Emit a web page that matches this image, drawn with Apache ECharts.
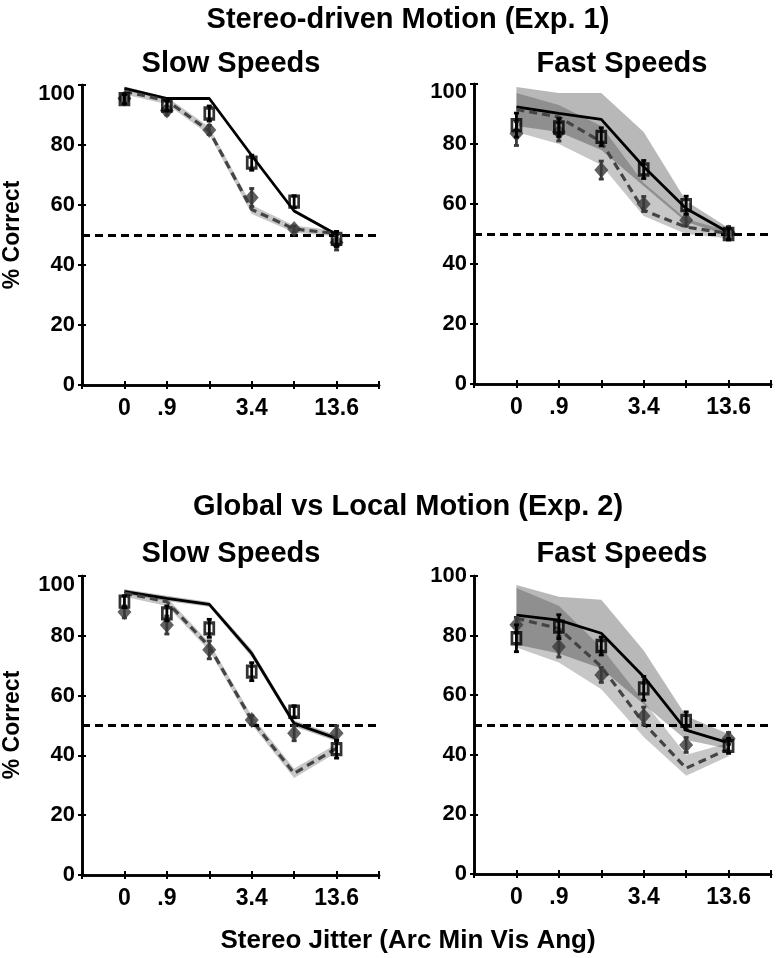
<!DOCTYPE html>
<html>
<head>
<meta charset="utf-8">
<script src="https://cdn.jsdelivr.net/npm/echarts@6/dist/echarts.min.js"></script>
<style>
html,body{margin:0;padding:0;background:#fff;}
#chart{width:777px;height:958px;}
</style>
</head>
<body>
<div id="chart"></div>
<script>
// ---------- DATA ----------
const xPositions = [1, 2, 3, 4, 5, 6];
const xTickLabels = ['', '0', '.9', '', '3.4', '', '13.6', ''];
const chanceLevel = 50;

const panelTitles = ['Slow Speeds', 'Fast Speeds', 'Slow Speeds', 'Fast Speeds'];
const rowTitles = ['Stereo-driven Motion (Exp. 1)', 'Global vs Local Motion (Exp. 2)'];
const yAxisTitle = '% Correct';
const xAxisTitle = 'Stereo Jitter (Arc Min Vis Ang)';

// Panel 1: Exp. 1, slow
const p1Solid = [98.9, 95.5, 95.5, 76.5, 58, 50.2];
const p1Dashed = [97.9, 94.8, 84.7, 58.5, 52, 50.5];
const p1SolidBandUpper = [99.5, 96, 96, 77, 58.6, 50.7];
const p1SolidBandLower = [98.3, 95, 95, 76, 57.4, 49.7];
const p1DashedBandUpper = [99, 96, 86, 60, 53.2, 51.5];
const p1DashedBandLower = [96.8, 93.6, 83.4, 57, 50.8, 49.5];
const p1Squares = [95.3, 93.1, 90.5, 74.1, 61.1, 48.7];
const p1SquaresErr = [1.5, 1.5, 2.5, 2.5, 2, 2.5];
const p1Diamonds = [95.5, 91.5, 85, 62.5, 52, 47.5];
const p1DiamondsErr = [1.5, 1.5, 1.5, 3, 1, 2.5];

// Panel 2: Exp. 1, fast
const p2Solid = [92.4, 90.2, 88.2, 72.4, 58.5, 50.5];
const p2Dashed = [91.5, 89, 80.7, 57.9, 52.3, 50.2];
const p2SolidBandUpper = [99, 97, 97, 84, 61, 52];
const p2SolidBandLower = [86, 84, 78, 66, 54, 49.5];
const p2DashedBandUpper = [97, 93, 86, 67, 55, 51];
const p2DashedBandLower = [84, 80, 73, 56, 50, 48.5];
const p2Squares = [86.3, 85.5, 82.4, 71.5, 59.6, 50];
const p2SquaresErr = [4, 3, 3, 3, 3, 2];
const p2Diamonds = [83.5, 84, 71.3, 60, 54.6, 50.5];
const p2DiamondsErr = [4, 3, 3, 2.5, 2, 2];

// Panel 3: Exp. 2, slow
const p3Solid = [94.8, 92.5, 90.5, 74.1, 50.7, 45.7];
const p3Dashed = [94.3, 91.4, 76.4, 51.8, 34, 42.4];
const p3SolidBandUpper = [95.6, 93.4, 91.3, 75.3, 51.7, 46.7];
const p3SolidBandLower = [94, 91.6, 89.7, 72.9, 49.7, 44.7];
const p3DashedBandUpper = [95.5, 92.8, 77.8, 53.3, 35.6, 43.8];
const p3DashedBandLower = [93.1, 90, 75, 50.3, 32.4, 41];
const p3Squares = [91.4, 87.5, 82.5, 68, 54.6, 42.1];
const p3SquaresErr = [2, 2.5, 3, 3, 2, 3];
const p3Diamonds = [88, 83.6, 75.3, 51.8, 47.4, 47.4];
const p3DiamondsErr = [2, 3, 3, 1.5, 2.5, 2.5];

// Panel 4: Exp. 2, fast
const p4Solid = [86.9, 85.2, 80.8, 66.2, 48.3, 44];
const p4Dashed = [85.8, 82.4, 69.6, 50.6, 35.5, 42];
const p4SolidBandUpper = [97, 93, 92, 75, 53, 47];
const p4SolidBandLower = [77, 74, 69, 57, 45, 42];
const p4DashedBandUpper = [96, 90, 76, 58, 40, 44];
const p4DashedBandLower = [76, 71, 62, 46, 33, 39.5];
const p4Squares = [79.1, 83, 76.5, 62.3, 51.4, 43];
const p4SquaresErr = [4.5, 4, 3, 4, 3, 2.5];
const p4Diamonds = [83.6, 76.3, 66.8, 53, 43.3, 45.5];
const p4DiamondsErr = [2.5, 3.5, 2.5, 3, 2.5, 2];

// ---------- BUILD ----------
const FONT = '"Liberation Sans", Arial, Helvetica, sans-serif';
const panels = [
  {solid:p1Solid, dashed:p1Dashed, sU:p1SolidBandUpper, sL:p1SolidBandLower, dU:p1DashedBandUpper, dL:p1DashedBandLower, sq:p1Squares, sqE:p1SquaresErr, di:p1Diamonds, diE:p1DiamondsErr},
  {solid:p2Solid, dashed:p2Dashed, sU:p2SolidBandUpper, sL:p2SolidBandLower, dU:p2DashedBandUpper, dL:p2DashedBandLower, sq:p2Squares, sqE:p2SquaresErr, di:p2Diamonds, diE:p2DiamondsErr},
  {solid:p3Solid, dashed:p3Dashed, sU:p3SolidBandUpper, sL:p3SolidBandLower, dU:p3DashedBandUpper, dL:p3DashedBandLower, sq:p3Squares, sqE:p3SquaresErr, di:p3Diamonds, diE:p3DiamondsErr},
  {solid:p4Solid, dashed:p4Dashed, sU:p4SolidBandUpper, sL:p4SolidBandLower, dU:p4DashedBandUpper, dL:p4DashedBandLower, sq:p4Squares, sqE:p4SquaresErr, di:p4Diamonds, diE:p4DiamondsErr}
];

const gridRects = [
  {left: 82, top: 85, width: 297, height: 300},
  {left: 474, top: 84, width: 297, height: 300},
  {left: 82, top: 576, width: 297, height: 299},
  {left: 474, top: 576, width: 297, height: 298}
];
// downward shift (px) of the top "100" tick label in each panel, as in the reference
const topLabelShift = [9, 8, 9, 0];

const grids = [], xAxes = [], yAxes = [], series = [];
const axisLineStyle = {color: '#000', width: 2.6};
const tickStyle = {show: true, inside: true, length: 4, lineStyle: {width: 2, color: '#000'}};

function bandSeries(g, upper, lower, fill) {
  return {
    type: 'custom', xAxisIndex: 2*g, yAxisIndex: 2*g,
    data: [[xPositions[0], upper[0]]],
    encode: {x: 0, y: 1},
    silent: true, z: 1,
    renderItem: function (params, api) {
      const pts = [];
      for (let i = 0; i < xPositions.length; i++) pts.push(api.coord([xPositions[i], upper[i]]));
      for (let i = xPositions.length - 1; i >= 0; i--) pts.push(api.coord([xPositions[i], lower[i]]));
      return {type: 'polygon', shape: {points: pts}, style: {fill: fill}};
    }
  };
}

function errSeries(g, vals, errs, color, z) {
  return {
    type: 'custom', xAxisIndex: 2*g, yAxisIndex: 2*g, z: z,
    data: xPositions.map((x, i) => [x, vals[i], errs[i]]),
    encode: {x: 0, y: 1},
    silent: true,
    renderItem: function (params, api) {
      const x = api.value(0), y = api.value(1), e = api.value(2);
      const top = api.coord([x, y + e]);
      const bot = api.coord([x, y - e]);
      const st = {stroke: color, lineWidth: 2.8};
      return {type: 'group', children: [
        {type: 'line', shape: {x1: top[0], y1: top[1], x2: bot[0], y2: bot[1]}, style: st},
        {type: 'line', shape: {x1: top[0]-2.5, y1: top[1], x2: top[0]+2.5, y2: top[1]}, style: st},
        {type: 'line', shape: {x1: bot[0]-2.5, y1: bot[1], x2: bot[0]+2.5, y2: bot[1]}, style: st}
      ]};
    }
  };
}

panels.forEach((p, g) => {
  grids.push(Object.assign({containLabel: false, show: false}, gridRects[g]));
  xAxes.push({
    gridIndex: g, type: 'value', min: 0, max: 7, interval: 1, position: 'bottom',
    axisLine: {show: true, lineStyle: axisLineStyle},
    axisTick: tickStyle,
    axisLabel: {show: true, margin: 12, color: '#000', fontFamily: FONT, fontWeight: 'bold', fontSize: 23,
      formatter: v => xTickLabels[Math.round(v)] || ''},
    splitLine: {show: false}
  });
  xAxes.push({
    gridIndex: g, type: 'value', min: 0, max: 7, interval: 1, position: 'top',
    axisLine: {show: true, lineStyle: axisLineStyle},
    axisTick: tickStyle,
    axisLabel: {show: false}, splitLine: {show: false}
  });
  const sh = topLabelShift[g];
  yAxes.push({
    gridIndex: g, type: 'value', min: 0, max: 100, interval: 20, position: 'left',
    axisLine: {show: true, lineStyle: axisLineStyle},
    axisTick: tickStyle,
    axisLabel: {show: true, margin: 7, color: '#000', fontFamily: FONT, fontWeight: 'bold', fontSize: 22,
      formatter: v => (v === 100 && sh > 0) ? '{t|' + v + '}' : String(v),
      rich: {t: {fontFamily: FONT, fontWeight: 'bold', fontSize: 22, color: '#000', padding: [2 * sh, 0, 0, 0]}}},
    splitLine: {show: false}
  });
  yAxes.push({
    gridIndex: g, type: 'value', min: 0, max: 100, interval: 20, position: 'right',
    axisLine: {show: true, lineStyle: axisLineStyle},
    axisTick: tickStyle,
    axisLabel: {show: false}, splitLine: {show: false}
  });

  series.push(bandSeries(g, p.sU, p.sL, 'rgba(0,0,0,0.28)'));
  series.push(bandSeries(g, p.dU, p.dL, 'rgba(0,0,0,0.22)'));
  series.push({
    type: 'line', xAxisIndex: 2*g, yAxisIndex: 2*g, z: 3,
    data: xPositions.map((x, i) => [x, p.solid[i]]),
    symbol: 'none', lineStyle: {color: '#000', width: 2.8}, silent: true
  });
  series.push({
    type: 'line', xAxisIndex: 2*g, yAxisIndex: 2*g, z: 3,
    data: xPositions.map((x, i) => [x, p.dashed[i]]),
    symbol: 'none', lineStyle: {color: '#444', width: 3.2, type: [8, 5]}, silent: true,
    markLine: {
      silent: true, symbol: ['none', 'none'], label: {show: false},
      lineStyle: {color: '#000', width: 2.8, type: [8, 5]},
      data: [{yAxis: chanceLevel}]
    }
  });
  series.push(errSeries(g, p.di, p.diE, '#3a3a3a', 5));
  series.push({
    type: 'scatter', xAxisIndex: 2*g, yAxisIndex: 2*g, z: 6,
    data: xPositions.map((x, i) => [x, p.di[i]]),
    symbol: 'diamond', symbolSize: [14, 16], itemStyle: {color: '#3a3a3a'}, silent: true
  });
  series.push(errSeries(g, p.sq, p.sqE, '#000', 7));
  series.push({
    type: 'scatter', xAxisIndex: 2*g, yAxisIndex: 2*g, z: 8,
    data: xPositions.map((x, i) => [x, p.sq[i]]),
    symbol: 'rect', symbolSize: [9, 11],
    itemStyle: {color: 'rgba(0,0,0,0)', borderColor: '#000', borderWidth: 3}, silent: true
  });
});

function txt(x, y, text, size, rot) {
  return {
    type: 'text', x: x, y: y, rotation: rot || 0, silent: true,
    style: {text: text, fill: '#000', font: 'bold ' + size + 'px ' + FONT, textAlign: 'center', textVerticalAlign: 'middle'}
  };
}

const graphics = [
  txt(408, 20, rowTitles[0], 29),
  txt(231, 64, panelTitles[0], 29),
  txt(622, 64, panelTitles[1], 29),
  txt(408, 507, rowTitles[1], 29),
  txt(231, 554, panelTitles[2], 29),
  txt(622, 554, panelTitles[3], 29),
  txt(13, 235, yAxisTitle, 23, Math.PI / 2),
  txt(13, 725, yAxisTitle, 23, Math.PI / 2),
  txt(408, 941, xAxisTitle, 26)
];

const chart = echarts.init(document.getElementById('chart'), null, {renderer: 'canvas'});
chart.setOption({
  animation: false,
  backgroundColor: '#fff',
  grid: grids, xAxis: xAxes, yAxis: yAxes, series: series,
  graphic: graphics
});
</script>
</body>
</html>
